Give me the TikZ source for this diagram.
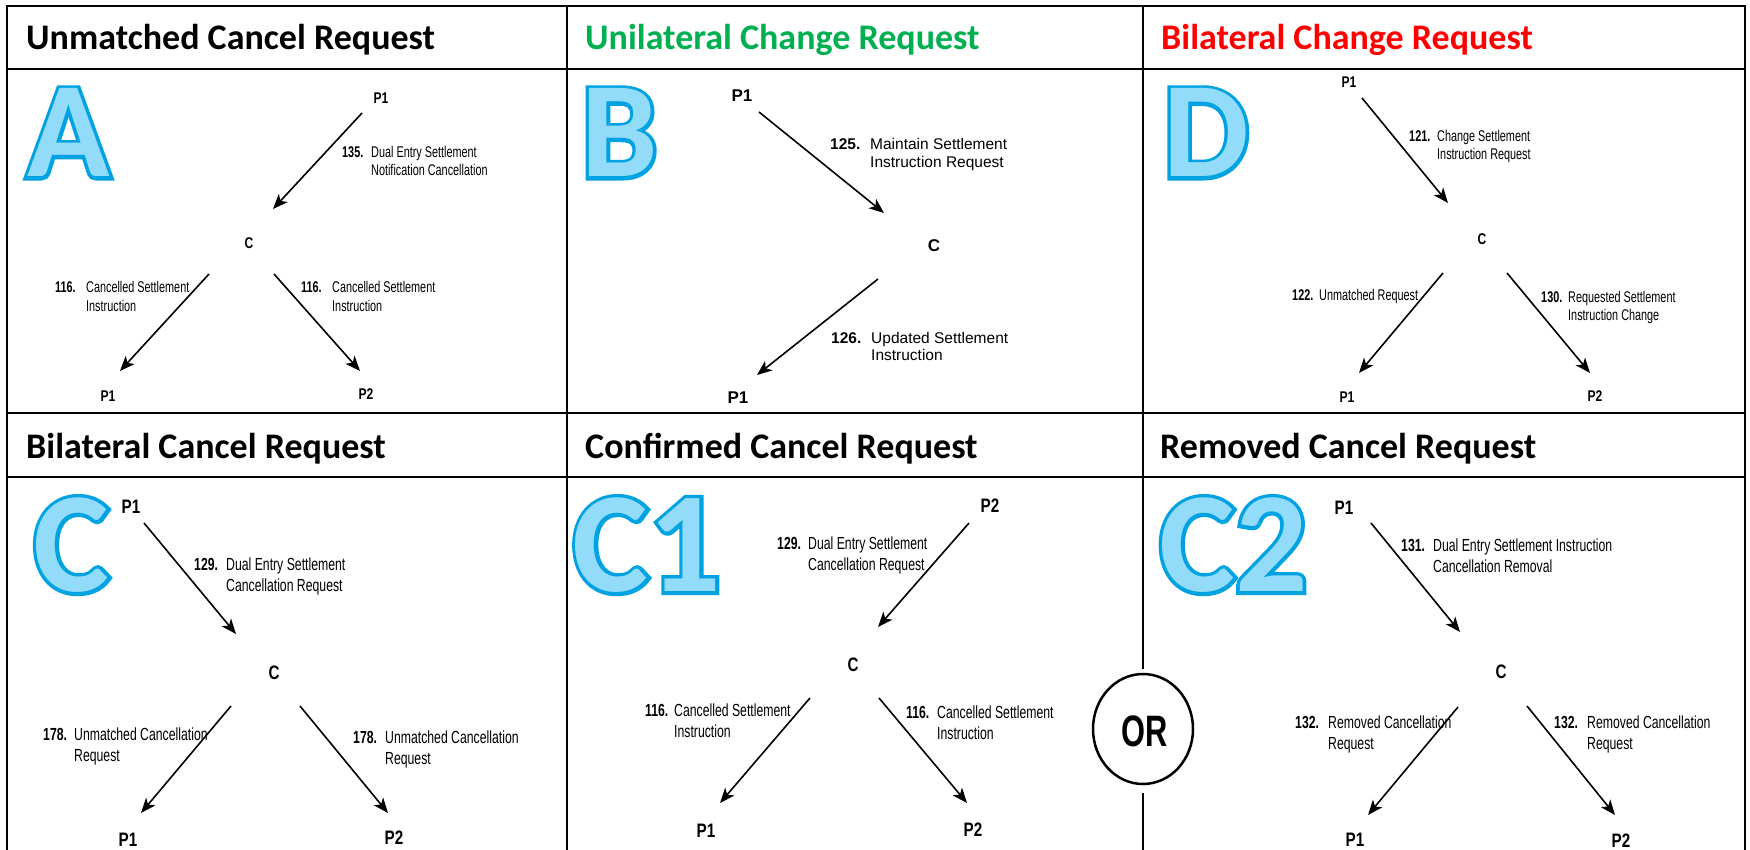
\documentclass[tikz,border=0pt]{standalone}
\usepackage{fontspec}
\usetikzlibrary{arrows.meta,calc}
\setmainfont{Liberation Sans}
\newfontfamily\calf{Carlito}
\newfontfamily\calfo[FakeBold=5.2]{Carlito}
\newfontfamily\condf[FakeStretch=0.7]{Liberation Sans}
\newfontfamily\condp[FakeStretch=0.78]{Liberation Sans}
\newfontfamily\normf{Liberation Sans}
\definecolor{tgreen}{RGB}{0,176,80}
\definecolor{tred}{RGB}{255,0,0}
\definecolor{letfill}{RGB}{146,220,250}
\definecolor{letline}{RGB}{0,162,226}
\newcommand\twoline[4]{\begin{tabular}[t]{@{}l@{}}\makebox[#1pt][l]{\bfseries #2}#3\\\hspace*{#1pt}#4\end{tabular}}
\newcommand\oneline[3]{\makebox[#1pt][l]{\bfseries #2}#3}
\newcommand\conn[4]{\draw[arr] ($(#1)+(#2)$) -- ($(#3)+(#4)$);}
\newcommand\bigletter[4]{%
  \node[bigl,font=\calfo\bfseries\fontsize{#4}{#4}\selectfont,text=letline] (#1o) at (#2) {#3};
  \node[bigl,font=\calf\bfseries\fontsize{#4}{#4}\selectfont,text=letfill] (#1) at (#2) {#3};}
\tikzset{
 ttl/.style={anchor=base west, inner sep=0, font=\calf\bfseries\fontsize{36}{40}\selectfont},
 bigl/.style={anchor=base, inner sep=0},
 labt/.style={anchor=base west, inner sep=0, font=\condf\fontsize{15.5}{18}\selectfont},
 labb/.style={anchor=base west, inner sep=0, font=\condf\fontsize{17.5}{21}\selectfont},
 labm/.style={anchor=base west, inner sep=0, font=\normf\fontsize{15.5}{17.5}\selectfont},
 pnt/.style={inner sep=0, font=\condp\bfseries\fontsize{15.5}{18}\selectfont},
 pnb/.style={inner sep=0, font=\condp\bfseries\fontsize{19.5}{22}\selectfont},
 pnm/.style={inner sep=0, font=\normf\bfseries\fontsize{17}{20}\selectfont},
 arr/.style={line width=1.6pt, -{Stealth[length=15pt,width=12pt,inset=4pt]}},
 gridl/.style={line width=2.5pt},
}
\begin{document}
\begin{tikzpicture}[x=1pt,y=-1pt]
\useasboundingbox (0,0) rectangle (1750,850);
% ---------- grid ----------
\draw[gridl] (7,850) -- (7,6) -- (1745,6) -- (1745,850);
\draw[gridl] (7,69) -- (1745,69);
\draw[gridl] (7,413) -- (1745,413);
\draw[gridl] (7,477) -- (1745,477);
\draw[gridl] (567,6) -- (567,850);
\coordinate (orc) at (1143,729);
\node[inner sep=0, font=\condf\bfseries\fontsize{44}{48}\selectfont] (or) at (1145,731) {OR};
\draw[gridl] (orc) ellipse [x radius=50pt, y radius=55pt];
\draw[gridl] (1143,6) -- ($(orc)+(0,-60)$);
\draw[gridl] ($(orc)+(0,64)$) -- (1143,850);
% ---------- titles ----------
\node[ttl] (tA) at (26,50) {Unmatched Cancel Request};
\node[ttl,text=tgreen] (tB) at (585,50) {Unilateral Change Request};
\node[ttl,text=tred] (tD) at (1161,50) {Bilateral Change Request};
\node[ttl] (tC) at (26,458) {Bilateral Cancel Request};
\node[ttl] (tCa) at (585,458) {Confirmed Cancel Request};
\node[ttl] (tCb) at (1160,458) {Removed Cancel Request};
% ---------- big letters ----------
\bigletter{LA}{68.5,177}{A}{136}
\bigletter{LB}{619.5,177}{B}{136}
\bigletter{LD}{1206,177}{D}{136}
\bigletter{LC}{71.5,591.5}{C}{143}
\bigletter{LCa}{647,591.5}{C1}{143}
\bigletter{LCb}{1233.5,591.5}{C2}{143}
% ---------- panel A ----------
\node[pnt] (aP1) at (381,98) {P1};
\node[pnt] (aC) at (249,243) {C};
\node[pnt] (aP1b) at (108,396) {P1};
\node[pnt] (aP2b) at (366,394) {P2};
\conn{aP1}{-19,15}{aC}{24,-34}
\conn{aC}{-40,31}{aP1b}{12,-25}
\conn{aC}{25,31}{aP2b}{-6,-23}
\node[labt] (aL1) at (342,158) {\twoline{29}{135.}{Dual Entry Settlement}{Notification Cancellation}};
\node[labt] (aL2) at (55,293) {\twoline{31}{116.}{Cancelled Settlement}{Instruction}};
\node[labt] (aL3) at (301,293) {\twoline{31}{116.}{Cancelled Settlement}{Instruction}};
% ---------- panel B ----------
\node[pnm] (bP1) at (742,96) {P1};
\node[pnm] (bC) at (934,246) {C};
\node[pnm] (bP1b) at (738,398) {P1};
\conn{bP1}{17,16}{bC}{-50,-33}
\conn{bC}{-56,33}{bP1b}{19,-23}
\node[labm] (bL1) at (830,150) {\twoline{40}{125.}{Maintain Settlement}{Instruction Request}};
\node[labm] (bL2) at (831,343) {\twoline{40}{126.}{Updated Settlement}{Instruction}};
% ---------- panel D ----------
\node[pnt] (dP1) at (1349,82) {P1};
\node[pnt] (dC) at (1482,239) {C};
\node[pnt] (dP1b) at (1347,397) {P1};
\node[pnt] (dP2b) at (1595,396) {P2};
\conn{dP1}{13,16}{dC}{-34,-36}
\conn{dC}{-39,34}{dP1b}{12,-24}
\conn{dC}{25,34}{dP2b}{-5,-23}
\node[labt] (dL1) at (1409,142) {\twoline{28}{121.}{Change Settlement}{Instruction Request}};
\node[labt] (dL2) at (1292,300) {\oneline{27}{122.}{Unmatched Request}};
\node[labt] (dL3) at (1541,302) {\twoline{27}{130.}{Requested Settlement}{Instruction Change}};
% ---------- panel C ----------
\node[pnb] (cP1) at (131,507) {P1};
\node[pnb] (cC) at (274,673) {C};
\node[pnb] (cP1b) at (128,840) {P1};
\node[pnb] (cP2b) at (394,838) {P2};
\conn{cP1}{13,16}{cC}{-38,-39}
\conn{cC}{-43,33}{cP1b}{13,-27}
\conn{cC}{26,33}{cP2b}{-6,-25}
\node[labb] (cL1) at (194,570) {\twoline{32}{129.}{Dual Entry Settlement}{Cancellation Request}};
\node[labb] (cL2) at (43,740) {\twoline{31}{178.}{Unmatched Cancellation}{Request}};
\node[labb] (cL3) at (353,743) {\twoline{32}{178.}{Unmatched Cancellation}{Request}};
% ---------- panel C1 ----------
\node[pnb] (eP2) at (990,506) {P2};
\node[pnb] (eC) at (853,665) {C};
\node[pnb] (eP1b) at (706,831) {P1};
\node[pnb] (eP2b) at (973,830) {P2};
\conn{eP2}{-21,17}{eC}{25,-38}
\conn{eC}{-43,33}{eP1b}{14,-28}
\conn{eC}{26,33}{eP2b}{-6,-27}
\node[labb] (eL1) at (777,549) {\twoline{31}{129.}{Dual Entry Settlement}{Cancellation Request}};
\node[labb] (eL2) at (645,716) {\twoline{29}{116.}{Cancelled Settlement}{Instruction}};
\node[labb] (eL3) at (906,718) {\twoline{31}{116.}{Cancelled Settlement}{Instruction}};
% ---------- panel C2 ----------
\node[pnb] (fP1) at (1344,508) {P1};
\node[pnb] (fC) at (1501,672) {C};
\node[pnb] (fP1b) at (1355,840) {P1};
\node[pnb] (fP2b) at (1621,841) {P2};
\conn{fP1}{27,15}{fC}{-41,-40}
\conn{fC}{-43,35}{fP1b}{13,-25}
\conn{fC}{26,34}{fP2b}{-6,-26}
\node[labb] (fL1) at (1401,551) {\twoline{32}{131.}{Dual Entry Settlement Instruction}{Cancellation Removal}};
\node[labb] (fL2) at (1295,728) {\twoline{33}{132.}{Removed Cancellation}{Request}};
\node[labb] (fL3) at (1554,728) {\twoline{33}{132.}{Removed Cancellation}{Request}};
\end{tikzpicture}
\end{document}
